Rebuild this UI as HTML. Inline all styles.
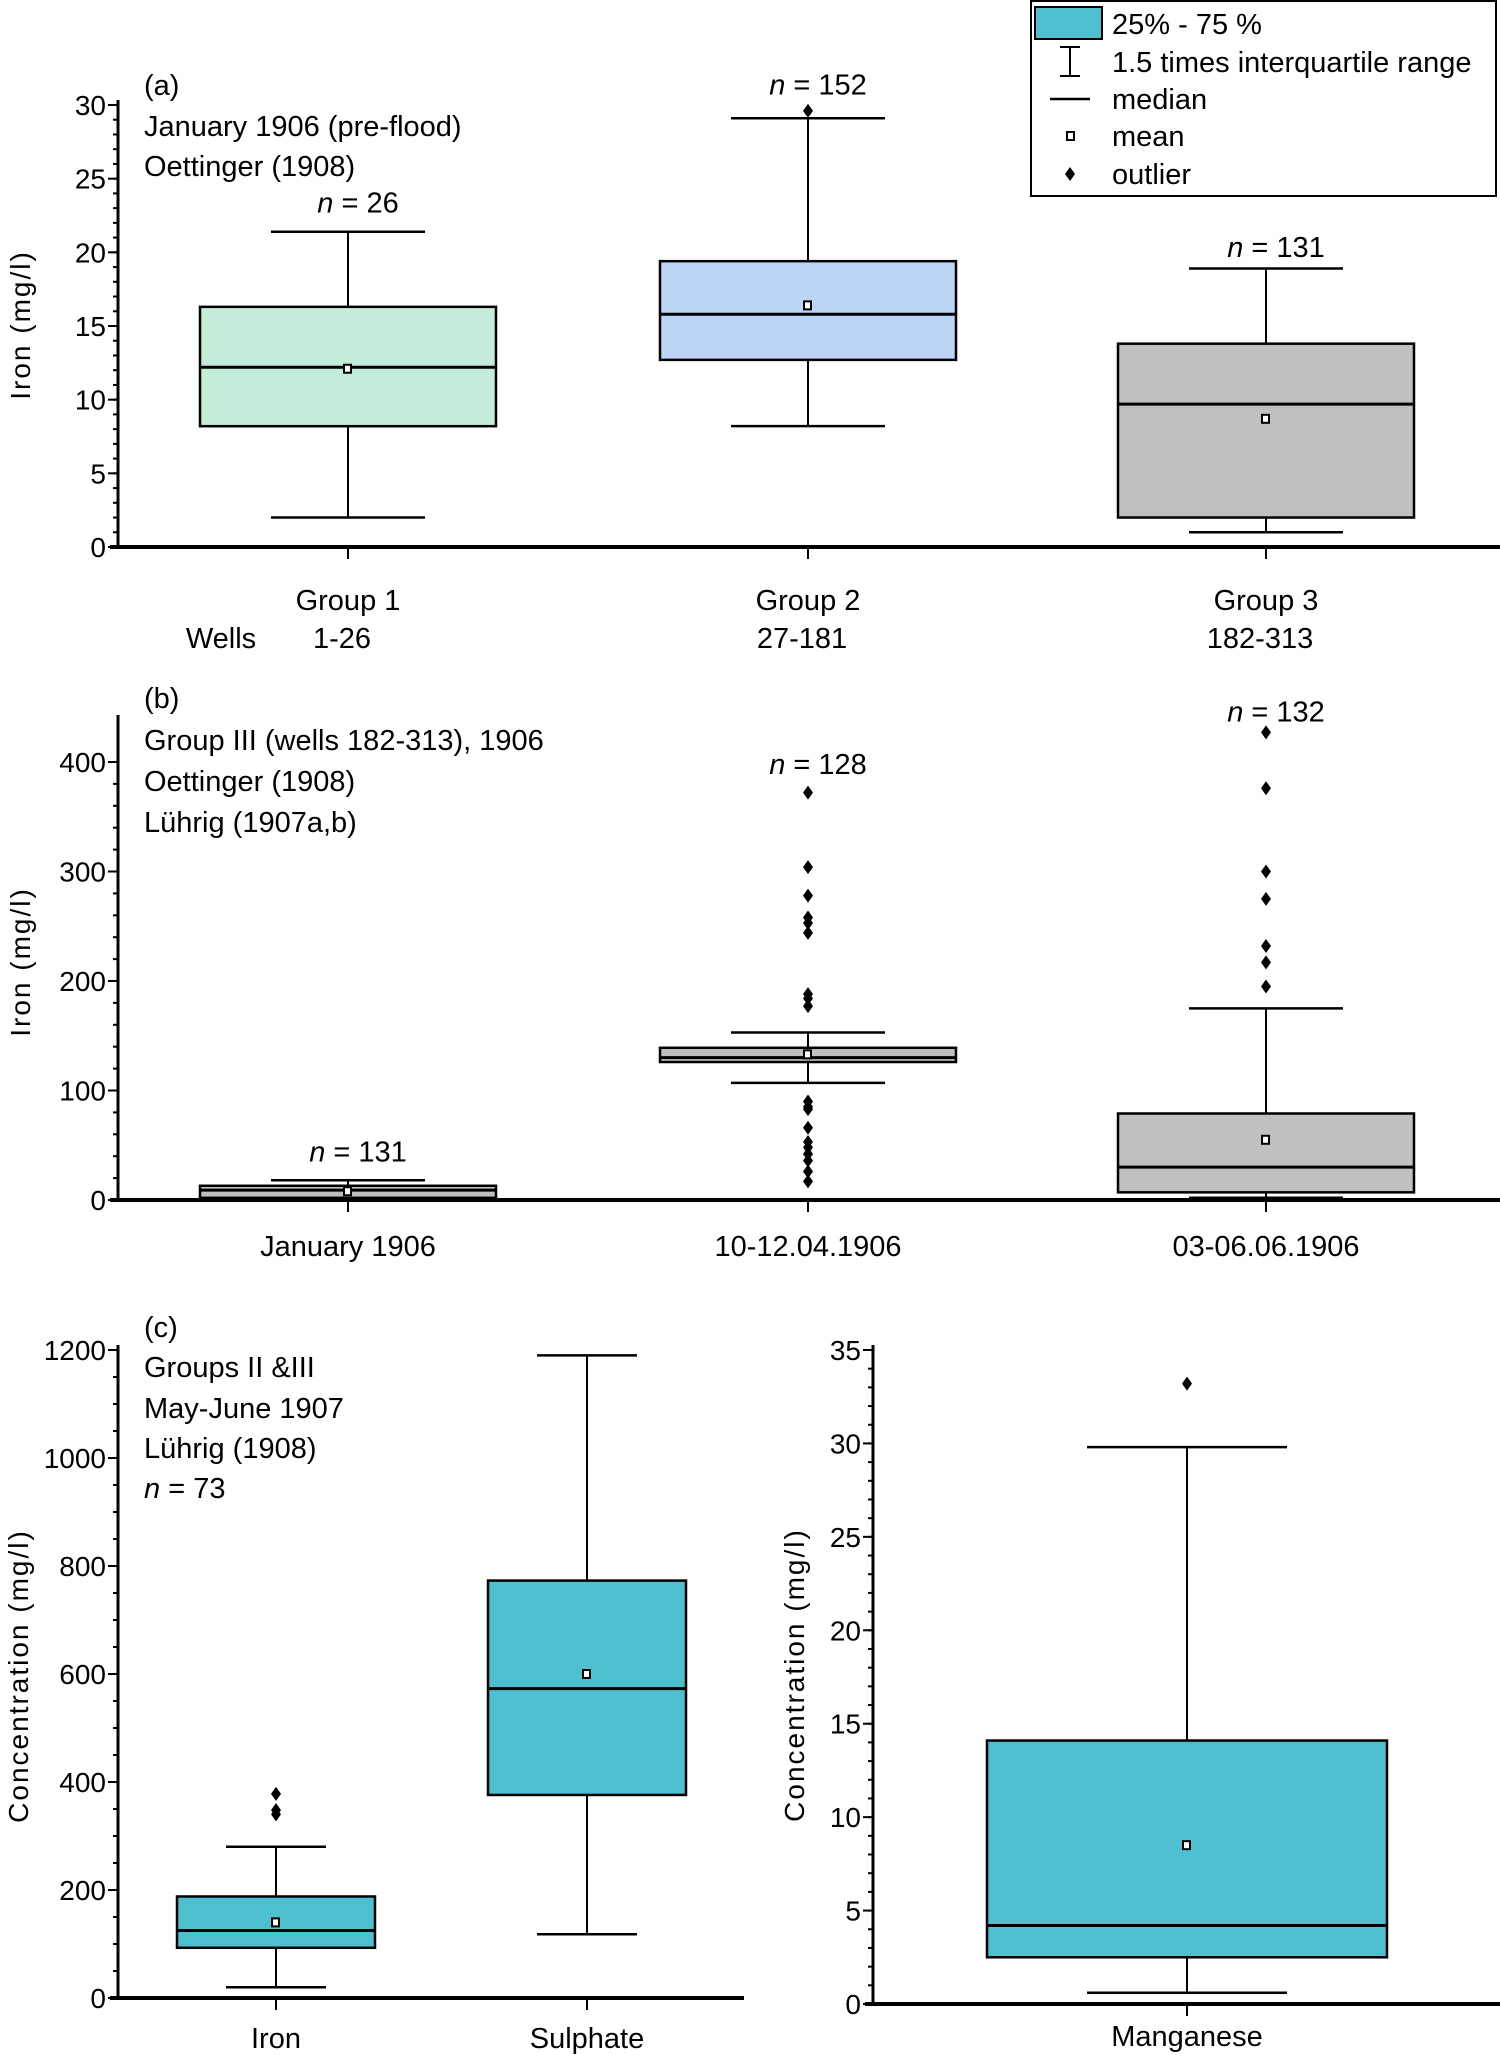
<!DOCTYPE html>
<html><head><meta charset="utf-8"><style>
html,body{margin:0;padding:0;background:#fff}
svg{display:block;font-family:"Liberation Sans Narrow","Liberation Sans",sans-serif}
</style></head><body>
<svg id="chart" width="1500" height="2055" viewBox="0 0 1500 2055" xmlns="http://www.w3.org/2000/svg">
<g id="legend">
<rect x="1031" y="1" width="465" height="195" fill="#fff" stroke="#000" stroke-width="2"/>
<rect x="1035" y="7" width="67" height="32" fill="#4dbfcf" stroke="#000" stroke-width="2"/>
<text x="1112" y="34" font-size="29">25% - 75 %</text>
<line x1="1070" y1="47" x2="1070" y2="76" stroke="#000" stroke-width="2"/>
<line x1="1060" y1="47" x2="1080" y2="47" stroke="#000" stroke-width="2"/>
<line x1="1060" y1="76" x2="1080" y2="76" stroke="#000" stroke-width="2"/>
<text x="1112" y="72" font-size="29">1.5 times interquartile range</text>
<line x1="1050" y1="99" x2="1090" y2="99" stroke="#000" stroke-width="2.5"/>
<text x="1112" y="109" font-size="29">median</text>
<rect x="1067" y="132" width="7" height="8" fill="#fff" stroke="#000" stroke-width="2"/>
<text x="1112" y="146" font-size="29">mean</text>
<path d="M1070 167 L1075 174 L1070 181 L1065 174 Z" fill="#000"/>
<text x="1112" y="184" font-size="29">outlier</text>
</g>
</svg>
<script>
// Panel a
const catsA = ["Group 1","Group 2","Group 3"];
const wellsA = ["1-26","27-181","182-313"];
const nA = ["26","152","131"];
const nPosA = [22.7,30.7,19.7];
const wlA = [2,8.2,1];
const q1A = [8.2,12.7,2];
const medA = [12.2,15.8,9.7];
const q3A = [16.3,19.4,13.8];
const whA = [21.4,29.1,18.9];
const meanA = [12.1,16.4,8.7];
const outA = [[],[29.6],[]];
const ticksA = [0,5,10,15,20,25,30];
// Panel b
const catsB = ["January 1906","10-12.04.1906","03-06.06.1906"];
const nB = ["131","128","132"];
const nPosB = [35,389,437];
const wlB = [0,107,2];
const q1B = [2,126,7];
const medB = [9,130,30];
const q3B = [13,139,79];
const whB = [18,153,175];
const meanB = [8,133,55];
const outB = [[],[372,304,278,258,253,244,188,184,177,90,85,83,66,53,48,42,36,26,17],[427,376,300,275,232,217,195]];
const ticksB = [0,100,200,300,400];
// Panel c left
const catsC = ["Iron","Sulphate"];
const wlC = [20,118];
const q1C = [93,376];
const medC = [125,573];
const q3C = [188,773];
const whC = [280,1190];
const meanC = [140,600];
const outC = [[378,348,340],[]];
const ticksC = [0,200,400,600,800,1000,1200];
// Panel c right
const catsD = ["Manganese"];
const wlD = [0.6];
const q1D = [2.5];
const medD = [4.2];
const q3D = [14.1];
const whD = [29.8];
const meanD = [8.5];
const outD = [[33.2]];
const ticksD = [0,5,10,15,20,25,30,35];

const svg = document.getElementById('chart');
const NS = 'http://www.w3.org/2000/svg';
function mk(tag, attrs, parent){const e=document.createElementNS(NS,tag);for(const k in attrs)e.setAttribute(k,attrs[k]);(parent||svg).appendChild(e);return e;}
function txt(s, attrs, parent){const e=mk('text',attrs,parent);e.textContent=s;return e;}

function panel(o){
  const g = mk('g',{});
  
  
  const y = v => o.y0 + (v - o.vmin)/(o.vmax - o.vmin)*(o.y1 - o.y0);
  const ya = mk('line',{x1:o.ax,y1:o.top,x2:o.ax,y2:o.y0+1,stroke:'#000','stroke-width':3},g);
  
  
  const xa = mk('line',{x1:o.ax-8,y1:o.y0,x2:o.xend,y2:o.y0,stroke:'#000','stroke-width':4},g);
  
  
  for(let v=o.vmin; v<=o.vmax+1e-9; v+=o.minor){
    mk('line',{x1:o.ax-5,y1:y(v),x2:o.ax,y2:y(v),stroke:'#000','stroke-width':2},g);
  }
  o.ticks.forEach(t=>{
    mk('line',{x1:o.ax-10,y1:y(t),x2:o.ax,y2:y(t),stroke:'#000','stroke-width':2},g);
    const tl = txt(String(t),{x:o.ax-12,y:y(t)+10,'font-size':28,'text-anchor':'end'},g);
    
    
  });
  const yt = txt(o.ytitle,{x:0,y:0,'font-size':28,'text-anchor':'middle','letter-spacing':2,'font-family':'Liberation Sans, sans-serif',transform:`translate(${o.ytx},${o.yty}) rotate(-90)`},g);
  
  
  o.cx.forEach((cx,i)=>{
    const bg = mk('g',{},g);
    
    
    mk('line',{x1:cx,y1:o.y0,x2:cx,y2:o.y0+12,stroke:'#000','stroke-width':2},bg);
    mk('line',{x1:cx,y1:y(o.wl[i]),x2:cx,y2:y(o.wh[i]),stroke:'#000','stroke-width':2},bg);
    mk('line',{x1:cx-o.cap,y1:y(o.wl[i]),x2:cx+o.cap,y2:y(o.wl[i]),stroke:'#000','stroke-width':2.5},bg);
    mk('line',{x1:cx-o.cap,y1:y(o.wh[i]),x2:cx+o.cap,y2:y(o.wh[i]),stroke:'#000','stroke-width':2.5},bg);
    mk('rect',{x:cx-o.bw,y:y(o.q3[i]),width:2*o.bw,height:y(o.q1[i])-y(o.q3[i]),fill:o.colors[i],stroke:'#000','stroke-width':2.5},bg);
    mk('line',{x1:cx-o.bw,y1:y(o.med[i]),x2:cx+o.bw,y2:y(o.med[i]),stroke:'#000','stroke-width':3},bg);
    mk('rect',{x:cx-4,y:y(o.mean[i])-4,width:7,height:8,fill:'#fff',stroke:'#000','stroke-width':2},bg);
    o.out[i].forEach(v=>{
      const p = mk('path',{d:`M${cx} ${y(v)-7} L${cx+5} ${y(v)} L${cx} ${y(v)+7} L${cx-5} ${y(v)} Z`,fill:'#000'},bg);
      
      
    });
    if(o.nl){
      const nt = txt('',{x:cx+10,y:y(o.npos[i]),'font-size':29,'text-anchor':'middle'},bg);
      
      
      const a = mk('tspan',{'font-style':'italic'},nt); a.textContent='n';
      const b = mk('tspan',{},nt); b.textContent=' = '+o.nl[i];
    }
    const cl = txt(o.cats[i],{x:cx+o.catdx,y:o.caty,'font-size':29,'text-anchor':'middle'},g);
    
    
  });
  o.notes.forEach((s,k)=>{
    const t = txt('',{x:144,y:o.noteY[k],'font-size':29},g);
    
    
    if(s.startsWith('n = ')){const a=mk('tspan',{'font-style':'italic'},t);a.textContent='n';const b=mk('tspan',{},t);b.textContent=s.slice(1);}
    else t.textContent=s;
  });
  return {g,y};
}

const pa = panel({name:'panel-a',ax:118,top:100,y0:547,y1:105,vmin:0,vmax:30,minor:1,xend:1500,ticks:ticksA,
  ytitle:'Iron (mg/l)',ytx:30,yty:325,cx:[348,808,1266],bw:148,cap:77,
  cats:catsA,wl:wlA,q1:q1A,med:medA,q3:q3A,wh:whA,mean:meanA,out:outA,nl:nA,npos:nPosA,
  colors:['#c3edd9','#bcd4f5','#c0c0c0'],catdx:0,caty:610,
  notes:['(a)','January 1906 (pre-flood)','Oettinger (1908)'],noteY:[95,136,176]});
wellsA.forEach((w,i)=>{
  const t = txt(w,{x:[348,808,1266][i]-6,y:648,'font-size':29,'text-anchor':'middle'},pa.g);
  
  
});
const wl = txt('Wells',{x:221,y:648,'font-size':29,'text-anchor':'middle'},pa.g);



panel({name:'panel-b',ax:118,top:715,y0:1200,y1:762,vmin:0,vmax:400,minor:20,xend:1500,ticks:ticksB,
  ytitle:'Iron (mg/l)',ytx:30,yty:962,cx:[348,808,1266],bw:148,cap:77,
  cats:catsB,wl:wlB,q1:q1B,med:medB,q3:q3B,wh:whB,mean:meanB,out:outB,nl:nB,npos:nPosB,
  colors:['#c0c0c0','#c0c0c0','#c0c0c0'],catdx:0,caty:1256,
  notes:['(b)','Group III (wells 182-313), 1906','Oettinger (1908)','Lührig (1907a,b)'],noteY:[708,750,791,832]});

panel({name:'panel-c-left',ax:118,top:1345,y0:1998,y1:1350,vmin:0,vmax:1200,minor:50,xend:744,ticks:ticksC,
  ytitle:'Concentration (mg/l)',ytx:28,yty:1676,cx:[276,587],bw:99,cap:50,
  cats:catsC,wl:wlC,q1:q1C,med:medC,q3:q3C,wh:whC,mean:meanC,out:outC,nl:null,
  colors:['#4dbfcf','#4dbfcf'],catdx:0,caty:2048,
  notes:['(c)','Groups II &III','May-June 1907','Lührig (1908)','n = 73'],noteY:[1337,1377,1418,1458,1498]});

panel({name:'panel-c-right',ax:873,top:1345,y0:2004,y1:1350,vmin:0,vmax:35,minor:1,xend:1500,ticks:ticksD,
  ytitle:'Concentration (mg/l)',ytx:804,yty:1675,cx:[1187],bw:200,cap:100,
  cats:catsD,wl:wlD,q1:q1D,med:medD,q3:q3D,wh:whD,mean:meanD,out:outD,nl:null,
  colors:['#4dbfcf'],catdx:0,caty:2046,
  notes:[],noteY:[]});
svg.appendChild(document.getElementById('legend'));
</script>
</body></html>
